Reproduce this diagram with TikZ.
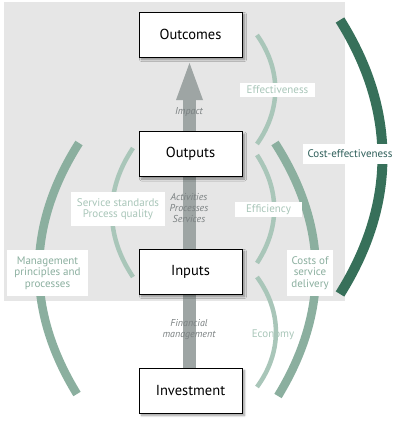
\documentclass[tikz,border=0pt]{standalone}
\usepackage{fontspec}
\setmainfont{PT Sans}
\usetikzlibrary{shadows.blur}
\definecolor{bggrey}{HTML}{E6E6E6}
\definecolor{lightg}{HTML}{A9C6B9}
\definecolor{midg}{HTML}{8BAF9F}
\definecolor{darkg}{HTML}{37705A}
\definecolor{darktxt}{HTML}{2F5F5A}
\definecolor{arrowg}{HTML}{9EA5A4}
\definecolor{italg}{HTML}{7B8182}
\begin{document}
\begin{tikzpicture}[x=1pt,y=-1pt,
  stage/.style={draw=black, line width=0.9pt, fill=white, minimum width=103pt,
    minimum height=45pt, inner sep=0pt, font=\fontsize{14.5}{16}\selectfont,
    blur shadow={shadow xshift=2.5pt, shadow yshift=-2.5pt, shadow blur steps=6, shadow blur radius=2pt}},
  lab/.style={fill=white, inner sep=0pt, align=center, font=\fontsize{11}{11.5}\selectfont},
  ital/.style={inner sep=0pt, align=center, text=italg, font=\fontsize{10}{11}\selectfont\itshape},
  lightarc/.style={draw=lightg, line width=4.5pt},
  midarc/.style={draw=midg, line width=8.5pt},
  darkarc/.style={draw=darkg, line width=10pt}
]
\useasboundingbox (0,0) rectangle (400,428);
\fill[bggrey] (4,2) rectangle (345,301);

% arcs
\coordinate (e1) at (257,35);  \coordinate (e2) at (257,144);
\coordinate (f1) at (257,155); \coordinate (f2) at (257,263);
\coordinate (g1) at (257,277); \coordinate (g2) at (257,387);
\coordinate (s1) at (133,148); \coordinate (s2) at (133,277);
\coordinate (c1) at (275,143); \coordinate (c2) at (278,396);
\coordinate (m1) at (79,143);  \coordinate (m2) at (77,394);
\coordinate (k1) at (340,20);  \coordinate (k2) at (340,294);
\draw[lightarc] (e1) to[bend left=35] (e2);
\draw[lightarc] (f1) to[bend left=33] (f2);
\draw[lightarc] (g1) to[bend left=36] (g2);
\draw[lightarc] (s1) to[bend right=34] (s2);
\draw[midarc] (c1) to[bend left=32] (c2);
\draw[midarc] (m1) to[bend right=32] (m2);
\draw[darkarc] (k1) to[bend left=32] (k2);

% arrow
\coordinate (hb) at (189.5,100);
\coordinate (ht) at (189.5,63);
\draw[arrowg, line width=13pt] (189.5,368) -- (hb);
\fill[arrowg] (176,100) -- (ht) -- (203,100) -- cycle;

% stages
\node[stage] (outc) at (190.5,34.5) {Outcomes};
\node[stage] (outp) at (190.5,154) {Outputs};
\node[stage] (inp)  at (190.5,271.5) {Inputs};
\node[stage] (inv)  at (190.5,390.5) {Investment};

% italic labels
\node[ital] (imp) at (189,112) {Impact};
\node[ital] (act) at (189,208.5) {Activities\\Processes\\Services};
\node[ital] (fin) at (189,330) {Financial\\management};

% side labels
\node[lab, text=lightg, minimum width=75pt, minimum height=14pt] (leff) at (277.5,90) {Effectiveness};
\node[lab, text=darktxt, minimum width=94pt, minimum height=20pt] (lce) at (350,154) {Cost-effectiveness};
\node[lab, text=lightg, minimum width=67pt, minimum height=15pt] (leffi) at (268.5,209.5) {Efficiency};
\node[lab, text=lightg, fill=none] (lecon) at (273,335) {Economy};
\node[lab, text=midg, minimum width=46pt, minimum height=46pt] (lcost) at (310,273) {Costs of\\service\\delivery};
\node[lab, text=lightg, minimum width=94pt, minimum height=34pt] (lss) at (118,209) {Service standards\\Process quality};
\node[lab, text=midg, minimum width=81pt, minimum height=46pt] (lmg) at (47.5,273) {Management\\principles and\\processes};
\end{tikzpicture}
\end{document}
